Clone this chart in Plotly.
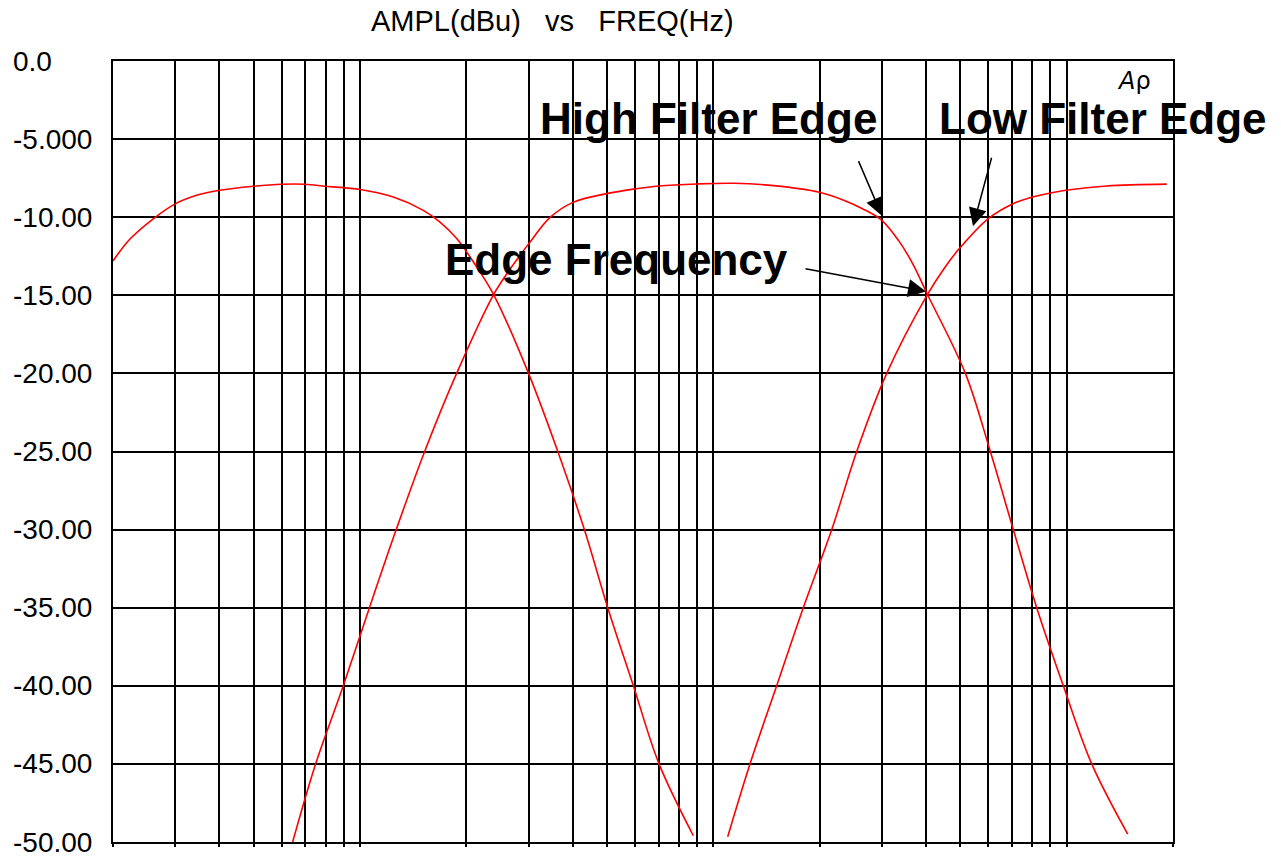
import math
import plotly.graph_objects as go

# ---------------- data ----------------
# frequency in Hz, amplitude in dBu
freq_band1 = [1000, 1117, 1300, 1505, 1725, 2000, 2500, 3000, 3500, 4000, 5000, 6214,
              7552, 8425, 9391, 10700, 11975, 15000, 18150, 21580, 25130, 29700, 35110, 43900]
ampl_band1 = [-12.8, -11.4, -10.1, -9.13, -8.6, -8.28, -8.02, -7.89, -7.89, -8.02, -8.23, -8.71,
              -9.56, -10.31, -11.37, -13.19, -15.0, -20, -25, -30, -35, -40, -45, -49.6]

freq_band2 = [3224, 3745, 4485, 5318, 6332, 7622, 9387, 11912, 13230, 14970, 17290, 20030,
              24970, 29940, 35020, 44960, 57220, 74080, 99770, 117900, 132600, 149900,
              167300, 183600, 201400, 258400, 304100, 353200, 411400, 489300, 588800, 744500]
ampl_band2 = [-50, -45, -40, -35, -30, -25, -20, -15, -13.4, -11.74, -10.0, -9.05,
              -8.49, -8.19, -8.0, -7.87, -7.83, -7.98, -8.4, -8.94, -9.47, -10.2,
              -11.5, -13.0, -14.9, -20, -25, -30, -35, -40, -45, -49.5]

freq_band3 = [54920, 63500, 75570, 89880, 108200, 127300, 154800, 201200, 226300, 249500,
              299500, 351400, 393900, 450000, 497000, 649300, 959800]
ampl_band3 = [-49.66, -45, -40, -35, -30, -25, -20, -15, -13.2, -11.96,
              -10.1, -9.15, -8.75, -8.45, -8.28, -8.0, -7.88]

# grid / tick definitions
grid_multipliers = [1, 1.5, 2, 2.5, 3, 3.5, 4, 4.5, 5]
grid_decades = [1e3, 1e4, 1e5]
x_last_grid = 1e6
x_range_hz = [1e3, 1e6]

y_tick_values = [0, -5, -10, -15, -20, -25, -30, -35, -40, -45, -50]
y_tick_labels = ["0.0", "-5.000", "-10.00", "-15.00", "-20.00", "-25.00",
                 "-30.00", "-35.00", "-40.00", "-45.00", "-50.00"]

title_text = "AMPL(dBu)&nbsp;&nbsp;&nbsp;vs&nbsp;&nbsp;&nbsp;FREQ(Hz)"

# annotation arrows: (label, head frequency, head amplitude, tail dx, tail dy)
arrow_specs = [
    ("High Filter Edge", 150000, -9.9, -24, -56),
    ("Low Filter Edge", 271600, -10.58, 19, -70),
    ("Edge Frequency", 200000, -14.75, -122, -23),
]

# ---------------- figure ----------------
FONT = "Liberation Sans, Arial, Helvetica, sans-serif"
RED = "#ff0000"

fig = go.Figure()
for fx, fy in [(freq_band1, ampl_band1), (freq_band2, ampl_band2), (freq_band3, ampl_band3)]:
    fig.add_trace(go.Scatter(x=fx, y=fy, mode="lines",
                             line=dict(color=RED, width=1.6, shape="spline", smoothing=1.0),
                             hoverinfo="skip"))

x_grid = [m * d for d in grid_decades for m in grid_multipliers] + [x_last_grid]

fig.update_xaxes(type="log",
                 range=[math.log10(x_range_hz[0]), math.log10(x_range_hz[1])],
                 tickvals=x_grid, showticklabels=False,
                 showgrid=True, gridcolor="black", gridwidth=1.6,
                 showline=True, linecolor="black", linewidth=2, mirror=True,
                 ticks="outside", ticklen=3, tickcolor="black", tickwidth=1.5,
                 zeroline=False)
fig.update_yaxes(range=[-50, 0], tickvals=y_tick_values, showticklabels=False,
                 showgrid=True, gridcolor="black", gridwidth=1.6,
                 showline=True, linecolor="black", linewidth=2, mirror=True,
                 ticks="", zeroline=False)

annotations = []
# left-aligned y tick labels
for v, lab in zip(y_tick_values, y_tick_labels):
    annotations.append(dict(text=lab, xref="paper", x=-0.0962, xanchor="left",
                            yref="y", y=v, yanchor="middle", showarrow=False,
                            font=dict(family=FONT, size=28, color="black")))

# title
annotations.append(dict(text=title_text, xref="paper", yref="paper",
                        x=0.4142, y=1.0515, xanchor="center", yanchor="middle",
                        showarrow=False, font=dict(family=FONT, size=29, color="black")))

# Ap symbol
annotations.append(dict(text="<i>A</i>ρ", xref="paper", yref="paper",
                        x=0.963, y=0.9745, xanchor="center", yanchor="middle",
                        showarrow=False, font=dict(family="DejaVu Sans, sans-serif", size=24, color="black")))

# bold labels
label_pos = {
    "High Filter Edge": (0.5618, 0.9265),
    "Low Filter Edge": (0.9344, 0.9265),
    "Edge Frequency": (0.475, 0.7455),
}
for lab, (px, py) in label_pos.items():
    annotations.append(dict(text="<b>%s</b>" % lab, xref="paper", yref="paper",
                            x=px, y=py, xanchor="center", yanchor="middle",
                            showarrow=False, font=dict(family=FONT, size=44, color="black")))

# arrows
for lab, f, a, dx, dy in arrow_specs:
    annotations.append(dict(text="", xref="x", yref="y", x=math.log10(f), y=a,
                            ax=dx, ay=dy, showarrow=True, arrowhead=2,
                            arrowsize=2.4, arrowwidth=1.5, arrowcolor="black", standoff=0))

fig.update_layout(width=1281, height=857,
                  margin=dict(l=113, r=108, t=61, b=15),
                  plot_bgcolor="white", paper_bgcolor="white",
                  showlegend=False, annotations=annotations,
                  font=dict(family=FONT))

# remove the default page margin so the figure fills the 1281x857 window exactly
fig.write_html("out.html", config={"displayModeBar": False},
               post_script="document.body.style.margin='0px';")
